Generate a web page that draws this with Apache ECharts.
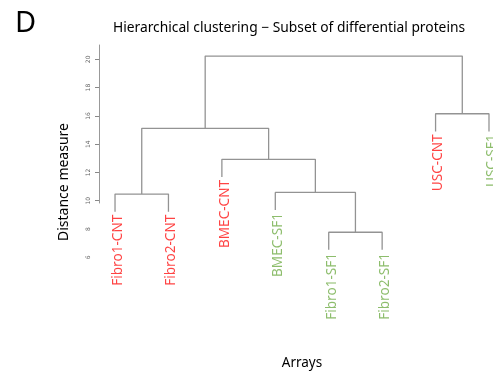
<!DOCTYPE html>
<html>
<head>
<meta charset="utf-8">
<script src="https://cdn.jsdelivr.net/npm/echarts@6/dist/echarts.min.js"></script>
<style>
html,body{margin:0;padding:0;background:#fff;}
#chart{width:493px;height:371px;}
</style>
</head>
<body>
<div id="chart"></div>
<script>
// Leaves in plotted order
const leafLabels = ['Fibro1-CNT','Fibro2-CNT','BMEC-CNT','BMEC-SF1','Fibro1-SF1','Fibro2-SF1','USC-CNT','USC-SF1'];
const leafGroups = ['CNT','CNT','CNT','SF1','SF1','SF1','CNT','SF1'];
// Merge table (R hclust style): negative = leaf position, positive = earlier merge step
const mergeLeft  = [-5, -1, -4, -3, 2, -7, 5];
const mergeRight = [-6, -2,  1,  3, 4, -8, 6];
const mergeHeights = [7.77, 10.47, 10.59, 12.93, 15.12, 16.15, 20.23];
const yLabelTicks = [6, 8, 10, 12, 14, 16, 18, 20];
const yMarkTicks = [10, 12, 14, 16, 18, 20];

const groupColors = {CNT: '#ff1414', SF1: '#70ad47'};
const lineColor = '#939393';

const hang = 0.1 * (Math.max(...mergeHeights) - Math.min(...mergeHeights));

const nodeX = [];
function childX(c) { return c < 0 ? -c : nodeX[c - 1]; }
const leafBottom = {};
const series = [];
for (let i = 0; i < mergeHeights.length; i++) {
  const h = mergeHeights[i];
  const l = mergeLeft[i], r = mergeRight[i];
  const xl = childX(l), xr = childX(r);
  const yl = l < 0 ? h - hang : mergeHeights[l - 1];
  const yr = r < 0 ? h - hang : mergeHeights[r - 1];
  if (l < 0) leafBottom[-l] = h - hang;
  if (r < 0) leafBottom[-r] = h - hang;
  nodeX.push((xl + xr) / 2);
  series.push({
    type: 'line', xAxisIndex: 0, yAxisIndex: 0,
    data: [[xl, yl], [xl, h], [xr, h], [xr, yr]],
    symbol: 'none', silent: true, animation: false,
    lineStyle: {color: lineColor, width: 1.3}
  });
}

series.push({
  type: 'scatter', xAxisIndex: 0, yAxisIndex: 0,
  symbolSize: 0, animation: false, silent: true,
  data: leafLabels.map((name, i) => ({
    value: [i + 1, leafBottom[i + 1]],
    label: {
      show: true, formatter: name, rotate: 90,
      position: [0, 0], offset: [-3, 3],
      align: 'right', verticalAlign: 'middle',
      color: groupColors[leafGroups[i]],
      fontFamily: 'Noto Sans', fontSize: 13.6
    }
  }))
});

const chart = echarts.init(document.getElementById('chart'), null, {renderer: 'canvas'});
chart.setOption({
  backgroundColor: '#fff',
  animation: false,
  grid: [
    {left: 99, right: 0, top: 45.2, bottom: 28.9},
    {left: 99, width: 10, top: 45, height: 158}
  ],
  xAxis: [
    {gridIndex: 0, type: 'value', min: 0.7, max: 8.075, show: false},
    {gridIndex: 1, type: 'value', min: 0, max: 1, show: false}
  ],
  yAxis: [
    {gridIndex: 0, type: 'value', min: 0, max: 21,
     axisLine: {show: false}, splitLine: {show: false},
     axisTick: {show: true, length: 4, customValues: yMarkTicks, lineStyle: {color: '#888'}},
     axisLabel: {show: true, customValues: yLabelTicks, rotate: 90, fontSize: 6, color: '#666',
                 margin: 8, fontFamily: 'DejaVu Sans'}},
    {gridIndex: 1, type: 'value', min: 0, max: 1,
     axisLine: {show: true, lineStyle: {color: '#999', width: 1}},
     axisTick: {show: false}, axisLabel: {show: false}, splitLine: {show: false}}
  ],
  series: series,
  graphic: [
    {type: 'text', left: 15, top: 9, style: {text: 'D', fontSize: 29, fontFamily: 'Noto Sans', fill: '#000'}},
    {type: 'text', x: 289, y: 28, style: {text: 'Hierarchical clustering \u2212 Subset of differential proteins',
      fontSize: 13.8, fontFamily: 'Noto Sans', fill: '#000', align: 'center', verticalAlign: 'middle'}},
    {type: 'text', x: 64, y: 182, rotation: Math.PI / 2, style: {text: 'Distance measure',
      fontSize: 14, fontFamily: 'Noto Sans', fill: '#000', align: 'center', verticalAlign: 'middle'}},
    {type: 'text', x: 302, y: 363, style: {text: 'Arrays',
      fontSize: 13.5, fontFamily: 'Noto Sans', fill: '#000', align: 'center', verticalAlign: 'middle'}}
  ]
});
</script>
</body>
</html>
